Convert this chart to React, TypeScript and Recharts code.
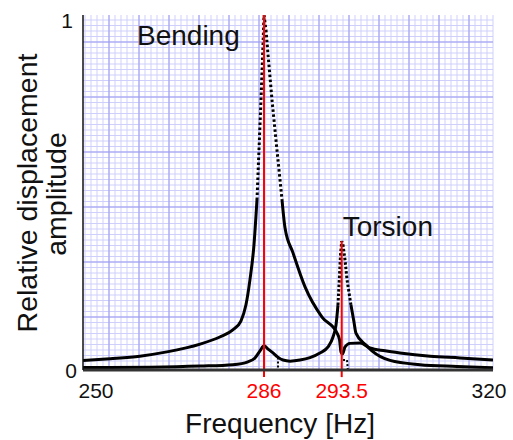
import { LineChart, Line, XAxis, YAxis, CartesianGrid, ReferenceLine, ReferenceDot } from "recharts";

// frequency axis labels and the two mode frequencies (red)
const FREQ_TICKS = [250, 286, 293.5, 320];
const MODE_FREQ = [286, 293.5];
const AMP_TICKS = [0, 1];

// bending response
const BENDING_FREQ = [
  250.0, 255.4, 261.3, 266.7, 273.3, 277.2, 279.8, 281.4, 282.4, 283.2, 284.0, 284.6, 285.0, 285.4, 285.8, 286.0,
  286.19, 286.39, 286.77, 287.25, 287.74, 288.03, 288.8, 289.96, 291.6, 293.05, 293.29, 293.43, 293.64, 294.08,
  294.95, 296.7, 298.45, 301.1, 303.7, 309.0, 314.2, 320.0,
];
const BENDING_AMP = [
  0.027, 0.032, 0.039, 0.051, 0.073, 0.093, 0.113, 0.138, 0.183, 0.254, 0.352, 0.479, 0.62, 0.761, 0.915, 1.0,
  0.958, 0.887, 0.761, 0.62, 0.479, 0.4, 0.33, 0.234, 0.149, 0.104, 0.085, 0.051, 0.045, 0.065,
  0.075, 0.076, 0.062, 0.054, 0.048, 0.039, 0.034, 0.028,
];

// torsion response
const TORSION_FREQ = [
  250.0, 263.3, 273.3, 279.8, 282.8, 284.2, 285.2, 286.0, 286.39, 286.87, 287.3, 287.83, 288.51, 289.47, 290.44,
  291.4, 292.18, 292.66, 292.95, 293.14, 293.29, 293.38, 293.5, 293.73, 294.08, 294.43, 295.12, 295.65, 295.99,
  297.76, 298.8, 301.96, 307.2, 313.7, 320.0,
];
const TORSION_AMP = [
  0.007, 0.008, 0.011, 0.015, 0.023, 0.034, 0.054, 0.068, 0.059, 0.048, 0.037, 0.028, 0.025, 0.028, 0.035,
  0.048, 0.065, 0.093, 0.127, 0.183, 0.268, 0.324, 0.363, 0.352, 0.31, 0.254, 0.183, 0.135, 0.104,
  0.07, 0.054, 0.027, 0.015, 0.01, 0.006,
];

// short dotted drops to zero
const DROP1_FREQ = [287.35, 287.35];
const DROP1_AMP = [0.035, 0];
const DROP2_FREQ = [293.73, 294.43, 294.57];
const DROP2_AMP = [0.028, 0.028, 0];

// layout
const W = 513;
const H = 440;
const PLOT = { left: 83, top: 15, right: 493, bottom: 370 };
const AXIS_FRAC = [0, 0.4415, 0.631, 1]; // where each freq label sits along the axis
const TICK_DX = [13, 0, 0, -4];
const FONT = "'Liberation Sans', Arial, Helvetica, sans-serif";

function warp(f: number) {
  for (let i = 0; i < FREQ_TICKS.length - 1; i++) {
    if (f <= FREQ_TICKS[i + 1] || i === FREQ_TICKS.length - 2) {
      const t = (f - FREQ_TICKS[i]) / (FREQ_TICKS[i + 1] - FREQ_TICKS[i]);
      return AXIS_FRAC[i] + t * (AXIS_FRAC[i + 1] - AXIS_FRAC[i]);
    }
  }
  return 0;
}

const toPoints = (freq: number[], amp: number[]) => freq.map((f, i) => ({ u: warp(f), a: amp[i] }));

// solid tails and dotted steep peaks
const split = (freq: number[], amp: number[], thr: number) => ({
  solid: freq.map((f, i) => ({ u: warp(f), a: amp[i] <= thr ? amp[i] : null })),
  peak: freq.map((f, i) => ({ u: warp(f), a: amp[i] >= thr ? amp[i] : null })),
});

const bending = split(BENDING_FREQ, BENDING_AMP, 0.479);
const torsion = split(TORSION_FREQ, TORSION_AMP, 0.183);
const TORSION_PEAK = Math.max(...TORSION_AMP);

const range = (a: number, b: number, step: number) => {
  const out: number[] = [];
  for (let v = a; v <= b + 0.01; v += step) out.push(v);
  return out;
};
const minorV = range(85, PLOT.right, 6);
const majorV = range(109, PLOT.right - 1, 30);
const minorH = range(20, PLOT.bottom - 1, 5.5);
const majorH = range(42, PLOT.bottom - 1, 55);

const FreqTick = (p: any) => {
  const i = FREQ_TICKS.findIndex((f) => Math.abs(warp(f) - p.payload.value) < 1e-6);
  const f = FREQ_TICKS[i];
  return (
    <text
      x={p.x + (TICK_DX[i] || 0)}
      y={PLOT.bottom + 28}
      textAnchor="middle"
      fontSize={21}
      fontFamily={FONT}
      fill={MODE_FREQ.includes(f) ? "#ff0000" : "#111"}
    >
      {f}
    </text>
  );
};

const AmpTick = (p: any) => {
  const v = p.payload.value;
  return (
    <text
      x={v === 1 ? 73 : 77}
      y={v === 1 ? PLOT.top + 13 : PLOT.bottom + 8}
      textAnchor="end"
      fontSize={21}
      fontFamily={FONT}
      fill="#111"
    >
      {v}
    </text>
  );
};

const curveProps = {
  dataKey: "a",
  stroke: "#000",
  strokeWidth: 3,
  dot: false,
  activeDot: false,
  connectNulls: false,
  isAnimationActive: false,
} as const;

export default function App() {
  return (
    <div style={{ position: "absolute", left: 0, top: 0, width: W, height: H, background: "#fff" }}>
      <LineChart width={W} height={H} margin={{ top: PLOT.top, right: W - PLOT.right, bottom: 0, left: 0 }}>
        <CartesianGrid horizontalPoints={minorH} verticalPoints={minorV} stroke="#cfcffb" strokeWidth={1} />
        <CartesianGrid horizontalPoints={majorH} verticalPoints={majorV} stroke="#9b9bf2" strokeWidth={1} />
        <XAxis
          type="number"
          dataKey="u"
          domain={[0, 1]}
          ticks={FREQ_TICKS.map(warp)}
          interval={0}
          height={H - PLOT.bottom}
          tickLine={false}
          tickSize={0}
          axisLine={{ stroke: "#333", strokeWidth: 3 }}
          tick={<FreqTick />}
          allowDataOverflow
          label={() => (
            <text x={280} y={433} textAnchor="middle" fontSize={28} fontFamily={FONT} fill="#111">
              Frequency [Hz]
            </text>
          )}
        />
        <YAxis
          type="number"
          domain={[0, 1]}
          ticks={AMP_TICKS}
          width={PLOT.left}
          tickLine={false}
          tickSize={0}
          axisLine={{ stroke: "#111", strokeWidth: 1.5 }}
          tick={<AmpTick />}
          allowDataOverflow
          label={() => (
            <g fontSize={28.5} fontFamily={FONT} fill="#111">
              <text x={37} y={193} textAnchor="middle" transform="rotate(-90, 37, 193)">
                Relative displacement
              </text>
              <text x={66} y={194} textAnchor="middle" transform="rotate(-90, 66, 194)">
                amplitude
              </text>
            </g>
          )}
        />
        <Line {...curveProps} data={bending.solid} type="monotone" />
        <Line {...curveProps} data={bending.peak} type="linear" strokeWidth={3} strokeDasharray="2.5 2.5" />
        <Line {...curveProps} data={torsion.solid} type="monotone" />
        <Line {...curveProps} data={torsion.peak} type="linear" strokeWidth={3} strokeDasharray="2.5 2" />
        <Line {...curveProps} data={toPoints(DROP1_FREQ, DROP1_AMP)} type="linear" strokeWidth={2} strokeDasharray="2 2" />
        <Line {...curveProps} data={toPoints(DROP2_FREQ, DROP2_AMP)} type="linear" strokeWidth={2} strokeDasharray="2 2" />
        <ReferenceLine
          segment={[{ x: warp(MODE_FREQ[0]), y: -0.02 }, { x: warp(MODE_FREQ[0]), y: 1 }]}
          stroke="#ff0000"
          strokeWidth={2}
          ifOverflow="visible"
        />
        <ReferenceLine
          segment={[{ x: warp(MODE_FREQ[1]), y: -0.02 }, { x: warp(MODE_FREQ[1]), y: TORSION_PEAK }]}
          stroke="#ff0000"
          strokeWidth={2}
          ifOverflow="visible"
        />
        <ReferenceDot
          x={warp(MODE_FREQ[0])}
          y={1}
          r={0}
          fill="none"
          stroke="none"
          ifOverflow="visible"
          label={(p: any) => (
            <text x={p.viewBox.x - 127} y={p.viewBox.y + 30} fontSize={28} fontFamily={FONT} fill="#111">
              Bending
            </text>
          )}
        />
        <ReferenceDot
          x={warp(MODE_FREQ[1])}
          y={TORSION_PEAK}
          r={0}
          fill="none"
          stroke="none"
          ifOverflow="visible"
          label={(p: any) => (
            <text x={p.viewBox.x + 1} y={p.viewBox.y - 5} fontSize={28} fontFamily={FONT} fill="#111">
              Torsion
            </text>
          )}
        />
      </LineChart>
    </div>
  );
}
